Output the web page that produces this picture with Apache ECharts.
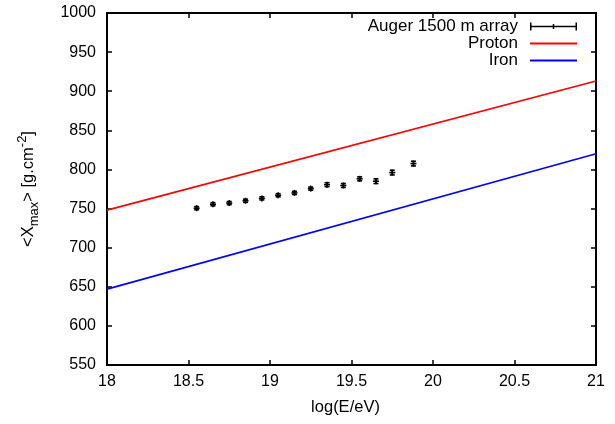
<!DOCTYPE html>
<html>
<head>
<meta charset="utf-8">
<script src="https://cdn.jsdelivr.net/npm/echarts@6/dist/echarts.min.js"></script>
<style>
html,body{margin:0;padding:0;background:#fff;}
#chart{width:615px;height:424px;}
</style>
</head>
<body>
<div id="chart"></div>
<script>
// Auger 1500 m array data
var augerLogE = [18.55, 18.65, 18.75, 18.85, 18.95, 19.05, 19.15, 19.25, 19.35, 19.45, 19.55, 19.65, 19.75, 19.88];
var augerXmax = [750.5, 755.5, 757, 760, 763, 767, 770, 775.5, 780.5, 779.5, 788, 785, 796, 807.5];
var augerErr  = [2, 2, 2, 2, 2, 2, 2, 2, 2.5, 2.5, 2.5, 3, 3, 3];
// Model lines
var modelLogE = [18, 21];
var protonXmax = [748, 913];
var ironXmax = [647, 820];
// Axis ticks
var xTicks = [18, 18.5, 19, 19.5, 20, 20.5, 21];
var yTicks = [550, 600, 650, 700, 750, 800, 850, 900, 950, 1000];

var FONT = "'Liberation Sans', Arial, Helvetica, sans-serif";

function pairs(xs, ys) { return xs.map(function (x, i) { return [x, ys[i]]; }); }
function triples(xs, ys, es) { return xs.map(function (x, i) { return [x, ys[i], es[i]]; }); }

var chart = echarts.init(document.getElementById('chart'), null, {renderer: 'canvas'});

var axisLine = {show: true, lineStyle: {color: '#000', width: 2}};
var tick = {show: true, inside: true, length: 5, lineStyle: {color: '#000', width: 1.5}};

var legendBase = {
  orient: 'horizontal', right: 38, padding: 0, itemWidth: 47, align: 'right',
  textStyle: {fontFamily: FONT, fontSize: 17, color: '#000', padding: [0, 7, 0, 0]},
  selectedMode: false
};

var option = {
  animation: false,
  backgroundColor: '#fff',
  textStyle: {fontFamily: FONT},
  grid: {left: 107, right: 19, top: 13, bottom: 59, containLabel: false},
  legend: [
    Object.assign({}, legendBase, {top: 18, itemHeight: 8,
      data: [{name: 'Auger 1500 m array', icon: 'path://M0,3.25h47v1.5h-47z M0,0h1.5v8h-1.5z M22.75,1.5h1.5v5h-1.5z M45.5,0h1.5v8h-1.5z'}]}),
    Object.assign({}, legendBase, {top: 35, itemHeight: 2, data: [{name: 'Proton', icon: 'rect'}]}),
    Object.assign({}, legendBase, {top: 52, itemHeight: 2, data: [{name: 'Iron', icon: 'rect'}]})
  ],
  xAxis: [
    {
      type: 'value', min: 18, max: 21, interval: 0.5, position: 'bottom',
      name: 'log(E/eV)', nameLocation: 'middle', nameGap: 34,
      nameTextStyle: {fontFamily: FONT, fontSize: 16.5, color: '#000', padding: [0, 12, 0, 0]},
      axisLine: axisLine, axisTick: tick, splitLine: {show: false},
      axisLabel: {fontFamily: FONT, fontSize: 16, color: '#000', margin: 9,
        formatter: function (v) { return xTicks.indexOf(v) >= 0 ? String(v) : ''; }}
    },
    {
      type: 'value', min: 18, max: 21, interval: 0.5, position: 'top',
      axisLine: axisLine, axisTick: tick, splitLine: {show: false}, axisLabel: {show: false}
    }
  ],
  yAxis: [
    {
      type: 'value', min: 550, max: 1000, interval: 50, position: 'left',
      name: '{a|<X}{s|max}{a|> [g.cm}{p|-2}{a|]}', nameLocation: 'middle', nameGap: 66, nameRotate: 90,
      nameTextStyle: {
        fontFamily: FONT, fontSize: 16.5, color: '#000',
        rich: {
          a: {fontFamily: FONT, fontSize: 16.5, color: '#000', lineHeight: 25},
          s: {fontFamily: FONT, fontSize: 13, color: '#000', lineHeight: 13, verticalAlign: 'bottom'},
          p: {fontFamily: FONT, fontSize: 13, color: '#000', lineHeight: 13, verticalAlign: 'top'}
        }
      },
      axisLine: axisLine, axisTick: tick, splitLine: {show: false},
      axisLabel: {fontFamily: FONT, fontSize: 16, color: '#000', margin: 11,
        formatter: function (v) { return yTicks.indexOf(v) >= 0 ? String(v) : ''; }}
    },
    {
      type: 'value', min: 550, max: 1000, interval: 50, position: 'right',
      axisLine: axisLine, axisTick: tick, splitLine: {show: false}, axisLabel: {show: false}
    }
  ],
  series: [
    {
      name: 'Proton', type: 'line', xAxisIndex: 0, yAxisIndex: 0,
      data: pairs(modelLogE, protonXmax), showSymbol: false, symbol: 'none',
      color: '#ff0000', lineStyle: {color: '#ff0000', width: 1.6}, z: 2
    },
    {
      name: 'Iron', type: 'line', xAxisIndex: 0, yAxisIndex: 0,
      data: pairs(modelLogE, ironXmax), showSymbol: false, symbol: 'none',
      color: '#0000ff', lineStyle: {color: '#0000ff', width: 1.6}, z: 2
    },
    {
      name: 'Auger 1500 m array', type: 'custom', xAxisIndex: 0, yAxisIndex: 0,
      color: '#000', z: 3,
      data: triples(augerLogE, augerXmax, augerErr),
      encode: {x: 0, y: 1},
      renderItem: function (params, api) {
        var x = api.value(0), y = api.value(1), e = api.value(2);
        var c = api.coord([x, y]);
        var hi = api.coord([x, y + e]);
        var lo = api.coord([x, y - e]);
        var st = {stroke: '#000', lineWidth: 1.6, fill: null};
        var cap = 2.5, m = 3;
        return {
          type: 'group',
          children: [
            {type: 'line', shape: {x1: c[0], y1: hi[1], x2: c[0], y2: lo[1]}, style: st},
            {type: 'line', shape: {x1: c[0] - cap, y1: hi[1], x2: c[0] + cap, y2: hi[1]}, style: st},
            {type: 'line', shape: {x1: c[0] - cap, y1: lo[1], x2: c[0] + cap, y2: lo[1]}, style: st},
            {type: 'line', shape: {x1: c[0] - m, y1: c[1], x2: c[0] + m, y2: c[1]}, style: st},
            {type: 'line', shape: {x1: c[0], y1: c[1] - m, x2: c[0], y2: c[1] + m}, style: st}
          ]
        };
      }
    }
  ]
};
chart.setOption(option);
</script>
</body>
</html>
